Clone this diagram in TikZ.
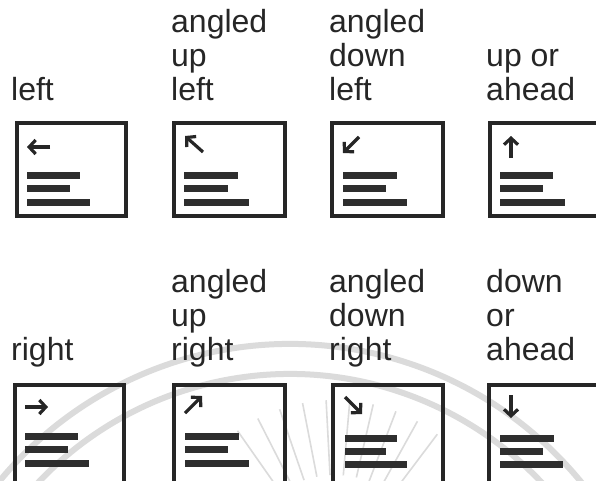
\documentclass[tikz,border=0pt]{standalone}
\usepackage{fontspec}
\setmainfont{Liberation Sans}
\usetikzlibrary{arrows.meta}
\newcommand\stk[1]{\begin{tabular}[b]{@{}l@{}}#1\end{tabular}}
\begin{document}
\begin{tikzpicture}[x=1pt,y=-1pt,
  lab/.style={anchor=base west, inner sep=0pt, font=\fontsize{32}{34}\selectfont, text=black!85},
  sign/.style={draw=black!85, line width=4pt},
  bar/.style={draw=black!82, line width=7pt},
  dir/.style={draw=black!85, line width=3.2pt, -{Straight Barb[length=6.5pt,width=14pt]}},
  wm/.style={draw=black!14, line width=6pt},
  wmr/.style={draw=black!14, line width=1.6pt}]
\useasboundingbox (0,0) rectangle (596,480);
\clip (0,0) rectangle (596,480);
\fill[white] (0,0) rectangle (596,480);
% faint watermark
\draw[wm] (290,720) ++(200:376) arc[start angle=200, end angle=340, radius=376];
\draw[wm] (290,720) ++(205:346) arc[start angle=205, end angle=335, radius=346];
\foreach \a in {55,63,71,79,87,95,103,111,119,127}
  \draw[wmr] (335,570) ++(\a:-95) -- ++(\a:-75);
% labels
\node[lab] (l1) at (11,100) {\stk{left}};
\node[lab] (l2) at (171,100) {\stk{angled\\up\\left}};
\node[lab] (l3) at (329,100) {\stk{angled\\down\\left}};
\node[lab] (l4) at (486,100) {\stk{up or\\ahead}};
\node[lab] (l5) at (11,360) {\stk{right}};
\node[lab] (l6) at (171,360) {\stk{angled\\up\\right}};
\node[lab] (l7) at (329,360) {\stk{angled\\down\\right}};
\node[lab] (l8) at (486,360) {\stk{down\\or\\ahead}};
% sign boxes
\draw[sign] (17,123) rectangle (126,216);
\draw[sign] (174,123) rectangle (285,216);
\draw[sign] (332,123) rectangle (443,216);
\draw[sign] (490,123) rectangle (601,216);
\draw[sign] (15,385) rectangle (124,484);
\draw[sign] (174,385) rectangle (285,484);
\draw[sign] (333,385) rectangle (443,484);
\draw[sign] (489,385) rectangle (600,484);
% arrows
\draw[dir] (50,147) -- (27,147);
\draw[dir] (203,152) -- (185,136);
\draw[dir] (359,137) -- (343,153);
\draw[dir] (511,158) -- (511,136);
\draw[dir] (25,407) -- (48,407);
\draw[dir] (185,413) -- (202,396);
\draw[dir] (345,397) -- (362,414);
\draw[dir] (511,395) -- (511,418);
% text bars
\foreach \x/\ya/\yb/\yc/\ea/\eb/\ec in {
  27/175/188/202/80/70/90,
  184/175/188/202/238/228/249,
  343/175/188/202/397/386/407,
  500/175/188/202/553/543/565,
  25/436/449/463/78/68/89,
  185/436/449/463/239/228/249,
  345/438/451/464/397/386/407,
  500/438/451/464/554/543/563}{
  \draw[bar] (\x,\ya) -- (\ea,\ya);
  \draw[bar] (\x,\yb) -- (\eb,\yb);
  \draw[bar] (\x,\yc) -- (\ec,\yc);
}
\end{tikzpicture}
\end{document}
